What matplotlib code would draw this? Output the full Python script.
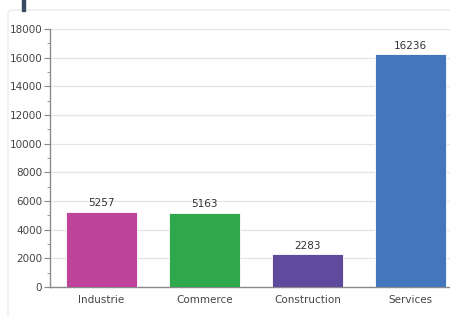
import matplotlib
matplotlib.use("Agg")
import matplotlib.pyplot as plt
from matplotlib.patches import FancyBboxPatch, Rectangle

categories = ["Industrie", "Commerce", "Construction", "Services"]
values = [5257, 5163, 2283, 16236]
colors = ["#c0439b", "#2fa74b", "#5f4b9d", "#4376bd"]
yticks = [0, 2000, 4000, 6000, 8000, 10000, 12000, 14000, 16000, 18000]

W, H = 450, 317
fig = plt.figure(figsize=(W / 100, H / 100), dpi=100)
fig.patch.set_facecolor("white")

# faint panel border and small dark mark at top-left
fig.patches.append(FancyBboxPatch((8 / W, -0.05), 1.2, 1 - 10 / H + 0.05,
                                  boxstyle="round,pad=0,rounding_size=0.01",
                                  transform=fig.transFigure, fill=False,
                                  edgecolor="#ececec", linewidth=1.0))
fig.patches.append(Rectangle((22 / W, 1 - 11 / H), 3 / W, 11 / H,
                             transform=fig.transFigure, color="#3a4a60"))

left, bottom = 50 / W, 1 - 287 / H
ax = fig.add_axes([left, bottom, 412 / W, 258 / H])
x = list(range(len(categories)))
bars = ax.bar(x, values, width=0.69, color=colors, edgecolor="white",
              linewidth=0.6, zorder=3)
for xi, v in zip(x, values):
    ax.text(xi, v + 250, str(v), ha="center", va="bottom", fontsize=7.5,
            color="#333333", zorder=4)

ax.set_xlim(-0.5, 3.5)
ax.set_ylim(0, 18000)
ax.set_yticks(yticks)
ax.set_yticklabels([str(t) for t in yticks])
ax.set_yticks(range(1000, 18000, 2000), minor=True)
ax.set_xticks(x)
ax.set_xticklabels(categories)
ax.tick_params(axis="y", which="major", length=4, color="#888888",
               labelsize=7.5, labelcolor="#444444", pad=1.5)
ax.tick_params(axis="y", which="minor", length=2, color="#888888")
ax.tick_params(axis="x", length=0, labelsize=7.5, labelcolor="#444444", pad=5.5)
ax.grid(axis="y", which="major", color="#e4e4e4", linewidth=0.9, zorder=0)
for s in ["top", "right"]:
    ax.spines[s].set_visible(False)
ax.spines["left"].set_color("#8a8a8a")
ax.spines["bottom"].set_color("#8a8a8a")
ax.spines["left"].set_linewidth(1.0)
ax.spines["bottom"].set_linewidth(1.0)

fig.savefig("out.png", dpi=100)
